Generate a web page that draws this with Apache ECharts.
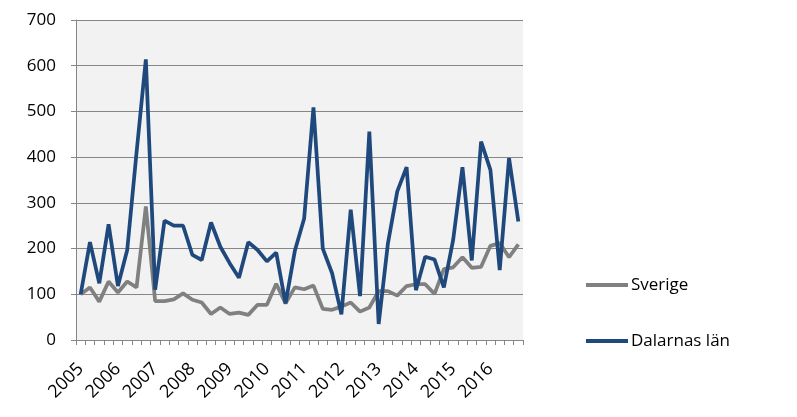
<!DOCTYPE html>
<html>
<head>
<meta charset="utf-8">
<script src="https://cdn.jsdelivr.net/npm/echarts@6/dist/echarts.min.js"></script>
<style>html,body{margin:0;padding:0;background:#fff;}#c{width:797px;height:417px;}</style>
</head>
<body>
<div id="c"></div>
<script>
var years = ['2005','2006','2007','2008','2009','2010','2011','2012','2013','2014','2015','2016'];
var yTicks = [0,100,200,300,400,500,600,700];
var sverige = [100,115,84,128,104,128,115,292, 85,85,89,102, 88,82,57,71, 57,60,55,77, 77,123,80,115,
               111,119,68,66, 73,82,62,71, 107,107,97,118, 122,122,101,155, 159,181,158,160, 206,212,181,209];
var dalarna = [100,214,124,253, 118,197,410,614, 110,261,250,250, 186,175,257,204, 168,136,214,197, 172,191,80,195,
               266,509,200,146, 56,285,96,456, 35,212,325,378, 109,182,176,115, 219,378,174,434, 372,153,398,259];

var categories = [];
years.forEach(function(y){ for (var q=1;q<=4;q++) categories.push(q===1 ? y : y+'Q'+q); });

var chart = echarts.init(document.getElementById('c'), null, {renderer:'canvas'});
var font = 'Open Sans, Liberation Sans, sans-serif';
chart.setOption({
  animation:false,
  backgroundColor:'#ffffff',
  grid:{left:76,right:274,top:20,bottom:77,show:true,backgroundColor:'#f2f2f2',borderWidth:0},
  legend:{
    orient:'vertical', left:586, top:276, padding:0, itemGap:38, itemWidth:42, itemHeight:4, icon:'rect',
    data:['Sverige','Dalarnas län'],
    textStyle:{fontFamily:font,fontSize:17,color:'#000',lineHeight:18,padding:[0,0,0,-2]}
  },
  xAxis:{
    type:'category', data:categories, boundaryGap:true,
    axisLine:{lineStyle:{color:'#868686',width:1}},
    axisTick:{show:true,interval:0,length:5,lineStyle:{color:'#868686'}},
    axisLabel:{interval:3,rotate:45,fontFamily:font,fontSize:18,color:'#000',margin:26,
      formatter:function(v){return v.length===4?v:'';}},
    splitLine:{show:false}
  },
  yAxis:{
    type:'value', min:0, max:700, interval:100,
    axisLine:{show:true,lineStyle:{color:'#868686',width:1}},
    axisTick:{show:true,length:5,lineStyle:{color:'#868686'}},
    axisLabel:{fontFamily:font,fontSize:17,color:'#000',margin:20,
      formatter:function(v){return yTicks.indexOf(v)>=0?String(v):'';}},
    splitLine:{lineStyle:{color:'#868686',width:1}}
  },
  series:[
    {name:'Sverige',type:'line',data:sverige,symbol:'none',lineStyle:{color:'#808080',width:3.75},itemStyle:{color:'#808080'}},
    {name:'Dalarnas län',type:'line',data:dalarna,symbol:'none',lineStyle:{color:'#1f497d',width:3.75},itemStyle:{color:'#1f497d'}}
  ]
});
</script>
</body>
</html>
